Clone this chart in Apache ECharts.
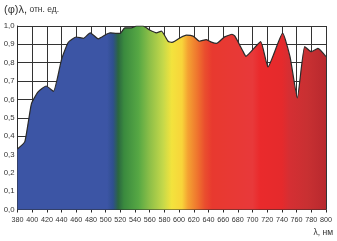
<!DOCTYPE html>
<html>
<head>
<meta charset="utf-8">
<script src="https://cdn.jsdelivr.net/npm/echarts@6/dist/echarts.min.js"></script>
<style>
html,body{margin:0;padding:0;background:#fff;}
#c{width:337px;height:241px;}
</style>
</head>
<body>
<div id="c"></div>
<script>
// Data
const wavelengths = [380, 390, 399, 408, 419, 429, 440, 449, 460, 470, 479, 490, 501, 506, 515, 520, 526, 535, 542, 551, 560, 569, 576, 585, 590, 594, 601, 610, 619, 628, 637, 644, 651, 660, 662, 672, 676, 687, 691, 711, 721, 741, 751, 761, 771, 780, 789, 800];
const values      = [0.33, 0.37, 0.577, 0.641, 0.673, 0.644, 0.818, 0.91, 0.94, 0.933, 0.963, 0.93, 0.955, 0.963, 0.96, 0.96, 0.99, 0.99, 1.0, 1.0, 0.978, 0.963, 0.972, 0.917, 0.911, 0.917, 0.935, 0.95, 0.945, 0.917, 0.926, 0.912, 0.905, 0.935, 0.941, 0.955, 0.945, 0.862, 0.835, 0.915, 0.777, 0.961, 0.833, 0.608, 0.888, 0.86, 0.878, 0.833];
const xMin = 380, xMax = 800, xStep = 20;
const yMin = 0, yMax = 1.0, yStep = 0.1;
const titleMain = '(φ)λ,';
const titleUnit = ' отн. ед.';
const xName = 'λ, нм';

// Spectrum colour stops (nm, colour) — styling
const spectrumStops = [
  [380, '#3c55a5'], [502, '#3c55a5'], [510, '#2f4f8f'], [517, '#2b6640'],
  [525, '#3a8a3e'], [545, '#57a844'], [560, '#8dbf48'], [578, '#c4d84a'],
  [590, '#f3e33d'], [604, '#f8d43a'], [612, '#f4a232'], [625, '#ef742e'],
  [635, '#ea4e2e'], [645, '#e8392f'], [700, '#e8393a'], [710, '#ea2a2c'],
  [740, '#e52a2c'], [750, '#d52f33'], [775, '#c83032'], [800, '#b8292e']
];

const chart = echarts.init(document.getElementById('c'), null, {renderer: 'canvas'});
const font = '"Liberation Sans", Arial, sans-serif';
const data = wavelengths.map((w, i) => [w, values[i]]);
const stops = spectrumStops.map(s => ({offset: (s[0] - xMin) / (xMax - xMin), color: s[1]}));

chart.setOption({
  animation: false,
  backgroundColor: '#ffffff',
  grid: {left: 17.5, right: 11, top: 26, bottom: 31.5, containLabel: false},
  xAxis: {
    type: 'value', min: xMin, max: xMax, interval: xStep,
    axisLine: {show: true, lineStyle: {color: '#2a2a2a', width: 1}},
    axisTick: {show: true, length: 3, lineStyle: {color: '#2a2a2a'}},
    axisLabel: {fontSize: 7.2, color: '#333', fontFamily: font, margin: 7, showMinLabel: true, showMaxLabel: true},
    splitLine: {show: true, lineStyle: {color: '#333', width: 1}}
  },
  yAxis: {
    type: 'value', min: yMin, max: yMax, interval: yStep,
    axisLine: {show: true, lineStyle: {color: '#2a2a2a', width: 1}},
    axisTick: {show: false},
    axisLabel: {fontSize: 7.8, color: '#333', fontFamily: font, margin: 3,
      formatter: v => v.toFixed(1).replace('.', ',')},
    splitLine: {show: true, lineStyle: {color: '#333', width: 1}}
  },
  graphic: [
    {type: 'text', left: 4, top: 4, style: {
      text: '{a|' + titleMain + '}{b|' + titleUnit + '}',
      rich: {a: {fontSize: 11, fill: '#333', fontFamily: font}, b: {fontSize: 8.5, fill: '#333', fontFamily: font}}
    }},
    {type: 'text', right: 4, top: 228, style: {text: xName, fontSize: 8.5, fill: '#333', fontFamily: font}}
  ],
  series: [{
    type: 'line', data: data, symbol: 'none', smooth: 0.15,
    lineStyle: {color: '#2a2a2a', width: 1.2},
    areaStyle: {opacity: 1, color: new echarts.graphic.LinearGradient(0, 0, 1, 0, stops)},
    z: 3
  }]
});
</script>
</body>
</html>
